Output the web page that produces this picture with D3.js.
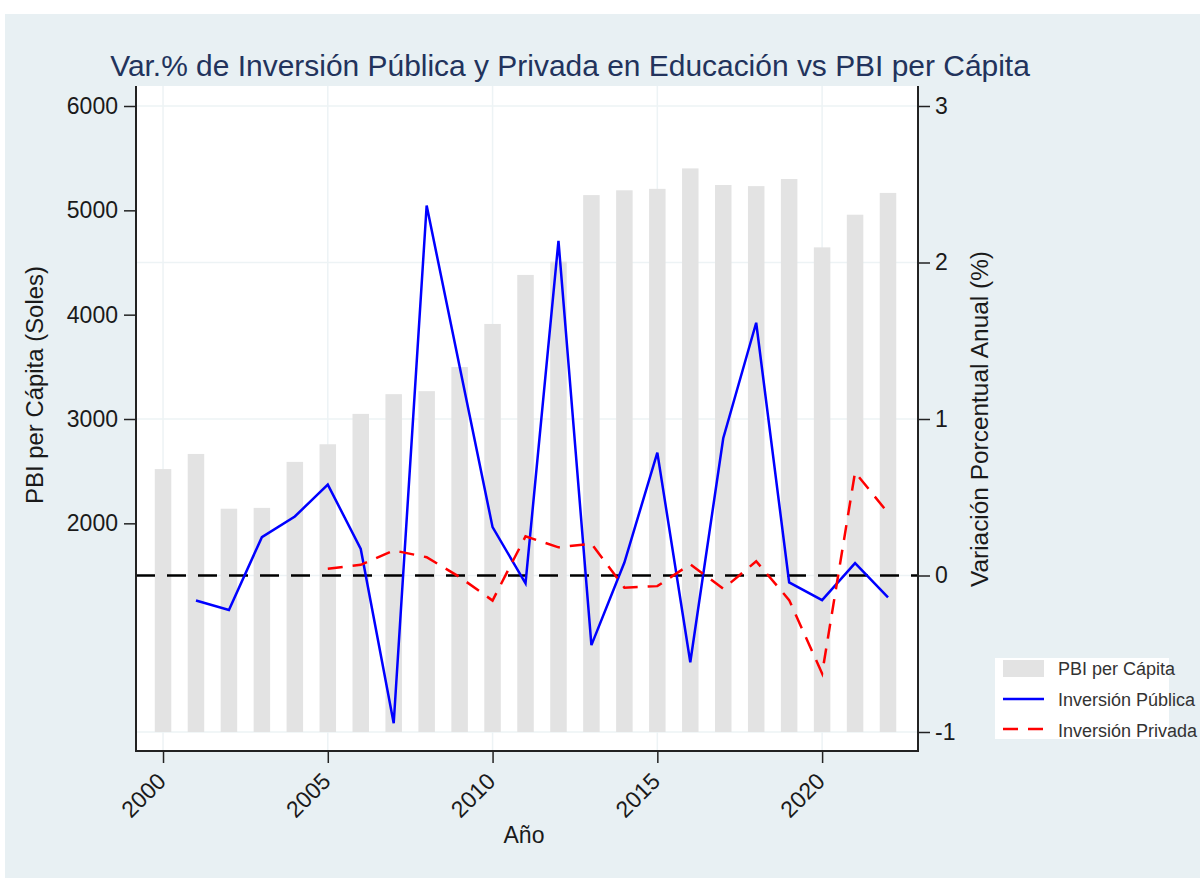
<!DOCTYPE html>
<html>
<head>
<meta charset="utf-8">
<script src="https://d3js.org/d3.v7.min.js"></script>
<style>
  body { margin: 0; background: #fff; }
  text { font-family: "Liberation Sans", Arial, sans-serif; }
</style>
</head>
<body>
<script>
// data
const years = [2000, 2001, 2002, 2003, 2004, 2005, 2006, 2007, 2008, 2009, 2010, 2011,
               2012, 2013, 2014, 2015, 2016, 2017, 2018, 2019, 2020, 2021, 2022];
const pbiPerCapita = [2520, 2665, 2140, 2148, 2589, 2758, 3049, 3238, 3267, 3498, 3911, 4381,
                      4508, 5146, 5192, 5206, 5402, 5243, 5232, 5300, 4645, 4958, 5167];
const invPublica = [null, -0.16, -0.22, 0.245, 0.377, 0.581, 0.17, -0.944, 2.364, 1.335, 0.309, -0.05,
                    2.139, -0.445, 0.083, 0.785, -0.554, 0.877, 1.615, -0.044, -0.157, 0.079, -0.14];
const invPrivada = [null, null, null, null, null, 0.043, 0.068, 0.16, 0.117, -0.01, -0.16, 0.25,
                    0.18, 0.203, -0.078, -0.068, 0.072, -0.085, 0.091, -0.157, -0.626, 0.66, 0.40];
const xTicks = [2000, 2005, 2010, 2015, 2020];
const leftTicks = [2000, 3000, 4000, 5000, 6000];
const rightTicks = [-1, 0, 1, 2, 3];
const legendLabels = ["PBI per Cápita", "Inversión Pública", "Inversión Privada"];

const W = 1200, H = 878;
const plot = { left: 136, right: 918, top: 86, bottom: 751 };

const svg = d3.select("body").append("svg")
  .attr("width", W).attr("height", H);

svg.append("rect").attr("x", 5).attr("y", 14).attr("width", W - 5).attr("height", H - 14)
  .attr("fill", "#e8f0f3");
svg.append("rect").attr("x", plot.left).attr("y", plot.top)
  .attr("width", plot.right - plot.left).attr("height", plot.bottom - plot.top)
  .attr("fill", "#fff");

const x = d3.scaleLinear().domain([1999.18, 2022.91]).range([plot.left, plot.right]);
const yL = d3.scaleLinear().domain([0, 6000]).range([732, 106]);
const yR = d3.scaleLinear().domain([-1, 3]).range([732, 106]);

// grid
const grid = svg.append("g").attr("stroke", "#edf3f5").attr("stroke-width", 1.5);
grid.selectAll("line.v").data(xTicks).join("line")
  .attr("x1", d => x(d)).attr("x2", d => x(d))
  .attr("y1", plot.top).attr("y2", plot.bottom);
grid.selectAll("line.h").data(rightTicks).join("line")
  .attr("x1", plot.left).attr("x2", plot.right)
  .attr("y1", d => yR(d)).attr("y2", d => yR(d));

// bars
const barW = 16.5;
svg.append("g").selectAll("rect").data(years).join("rect")
  .attr("x", (d, i) => x(d) - barW / 2)
  .attr("y", (d, i) => yL(pbiPerCapita[i]))
  .attr("width", barW)
  .attr("height", (d, i) => yL(0) - yL(pbiPerCapita[i]))
  .attr("fill", "#e3e3e3");

// zero reference line
svg.append("line")
  .attr("x1", plot.left).attr("x2", plot.right)
  .attr("y1", yR(0)).attr("y2", yR(0))
  .attr("stroke", "#000").attr("stroke-width", 2.5)
  .attr("stroke-dasharray", "19,12");

const line = d3.line()
  .defined(d => d[1] !== null)
  .x(d => x(d[0])).y(d => yR(d[1]));

svg.append("path")
  .datum(years.map((y, i) => [y, invPublica[i]]))
  .attr("d", line).attr("fill", "none")
  .attr("stroke", "#0000ff").attr("stroke-width", 2.5)
  .attr("stroke-linejoin", "miter");

svg.append("path")
  .datum(years.map((y, i) => [y, invPrivada[i]]))
  .attr("d", line).attr("fill", "none")
  .attr("stroke", "#ff0000").attr("stroke-width", 2.5)
  .attr("stroke-dasharray", "15,10");

// axes
const axisColor = "#222";
function styleAxis(g) {
  g.select(".domain").remove();
  g.selectAll(".tick line").attr("stroke", axisColor).attr("stroke-width", 1.5);
  g.selectAll(".tick text").attr("fill", "#1a1a1a").style("font-size", "23px")
    .style("font-family", "'Liberation Sans', Arial, sans-serif");
}

svg.append("g").attr("transform", `translate(${plot.left},0)`)
  .call(d3.axisLeft(yL).tickValues(leftTicks).tickSize(12).tickPadding(6).tickFormat(d => String(d)))
  .call(styleAxis);

svg.append("g").attr("transform", `translate(${plot.right},0)`)
  .call(d3.axisRight(yR).tickValues(rightTicks).tickSize(12).tickPadding(5).tickFormat(d => String(d)))
  .call(styleAxis);

const xg = svg.append("g").attr("transform", `translate(0,${plot.bottom})`)
  .call(d3.axisBottom(x).tickValues(xTicks).tickSize(12).tickPadding(4).tickFormat(d => String(d)))
  .call(styleAxis);
xg.selectAll(".tick text")
  .attr("text-anchor", "end")
  .attr("dy", "0.35em")
  .attr("transform", "translate(-2,26) rotate(-45)")
  .attr("x", 0).attr("y", 0);

// frame lines
const frame = svg.append("g").attr("stroke", axisColor).attr("stroke-width", 2);
frame.append("line").attr("x1", plot.left).attr("x2", plot.left).attr("y1", plot.top).attr("y2", plot.bottom + 1);
frame.append("line").attr("x1", plot.right).attr("x2", plot.right).attr("y1", plot.top).attr("y2", plot.bottom + 1);
frame.append("line").attr("x1", plot.left).attr("x2", plot.right).attr("y1", plot.bottom).attr("y2", plot.bottom);

// fit a text element to a target length by adjusting its font size
function fitText(sel, base, target) {
  const len = sel.node().getComputedTextLength();
  sel.style("font-size", (base * target / len).toFixed(2) + "px");
}

// titles
const title = svg.append("text")
  .attr("x", 570).attr("y", 76).attr("text-anchor", "middle")
  .attr("fill", "#22335c").style("font-size", "26px")
  .text("Var.% de Inversión Pública y Privada en Educación vs PBI per Cápita");
fitText(title, 26, 920);

const yTitleL = svg.append("text")
  .attr("transform", "translate(43,385) rotate(-90)")
  .attr("text-anchor", "middle").attr("fill", "#1a1a1a").style("font-size", "21px")
  .text("PBI per Cápita (Soles)");
fitText(yTitleL, 21, 238);

const yTitleR = svg.append("text")
  .attr("transform", "translate(988,419) rotate(-90)")
  .attr("text-anchor", "middle").attr("fill", "#1a1a1a").style("font-size", "21px")
  .text("Variación Porcentual Anual (%)");
fitText(yTitleR, 21, 336);

svg.append("text")
  .attr("x", 524).attr("y", 843).attr("text-anchor", "middle")
  .attr("fill", "#1a1a1a").style("font-size", "23px")
  .text("Año");

// legend
const lg = svg.append("g").attr("transform", "translate(995,658)");
lg.append("rect").attr("width", 174).attr("height", 81).attr("fill", "#fff");
lg.append("rect").attr("x", 8).attr("y", 2).attr("width", 41).attr("height", 17).attr("fill", "#e3e3e3");
lg.append("line").attr("x1", 8).attr("x2", 49).attr("y1", 41).attr("y2", 41)
  .attr("stroke", "#0000ff").attr("stroke-width", 2.5);
lg.append("line").attr("x1", 8).attr("x2", 49).attr("y1", 71).attr("y2", 71)
  .attr("stroke", "#ff0000").attr("stroke-width", 2.5).attr("stroke-dasharray", "15,10");
lg.selectAll("text.lbl").data(legendLabels).join("text")
  .attr("x", 63).attr("y", (d, i) => 17 + i * 31)
  .attr("fill", "#333").style("font-size", "18px")
  .text(d => d);
</script>
</body>
</html>
